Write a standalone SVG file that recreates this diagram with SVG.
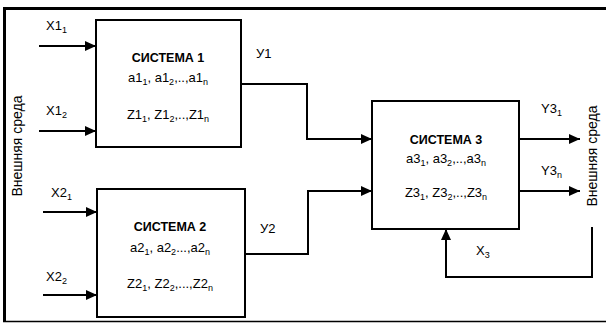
<svg xmlns="http://www.w3.org/2000/svg" width="606" height="325" viewBox="0 0 606 325">
<style>
.t{font-family:"Liberation Sans",Arial,sans-serif;font-size:13px;fill:#000}
.b{font-family:"Liberation Sans",Arial,sans-serif;font-size:12.5px;font-weight:bold;fill:#000}
.s{font-size:9px}
.box{fill:#fff;stroke:#000;stroke-width:2}
.ar{fill:none;stroke:#000;stroke-width:2;marker-end:url(#ah)}
.env{font-family:"Liberation Sans",Arial,sans-serif;font-size:14px;fill:#000}
</style>
<defs>
<marker id="ah" markerUnits="userSpaceOnUse" markerWidth="11" markerHeight="11" refX="11" refY="5" orient="auto">
<path d="M0,0 L11,5 L0,10 z" fill="#000"/>
</marker>
</defs>
<g id="frame">
<line x1="3" y1="8.5" x2="606" y2="8.5" stroke="#000" stroke-width="3"/>
<line x1="4.5" y1="7" x2="4.5" y2="322" stroke="#000" stroke-width="3"/>
<line x1="3" y1="321.5" x2="606" y2="321.5" stroke="#000" stroke-width="1.5"/>
</g>
<g id="env-left">
<text class="env" transform="translate(22,146) rotate(-90)" text-anchor="middle">Внешняя среда</text>
</g>
<g id="env-right">
<text class="env" transform="translate(597,156) rotate(-90)" text-anchor="middle">Внешняя среда</text>
</g>
<g id="connectors">
<line class="ar" x1="39" y1="46" x2="96" y2="46"/>
<line class="ar" x1="39" y1="131" x2="96" y2="131"/>
<line class="ar" x1="43" y1="212" x2="97" y2="212"/>
<line class="ar" x1="43" y1="295" x2="97" y2="295"/>
<polyline class="ar" points="241,84 307,84 307,139 372,139"/>
<polyline class="ar" points="245,254 308,254 308,191 372,191"/>
<line class="ar" x1="519" y1="139" x2="580" y2="139"/>
<line class="ar" x1="519" y1="191" x2="580" y2="191"/>
<polyline class="ar" points="592,227 592,277 446,277 446,229"/>
</g>
<g id="labels">
<text class="t" x="46" y="30">X1<tspan class="s" dy="3">1</tspan></text>
<text class="t" x="46" y="115">X1<tspan class="s" dy="3">2</tspan></text>
<text class="t" x="51" y="197">X2<tspan class="s" dy="3">1</tspan></text>
<text class="t" x="46" y="281">X2<tspan class="s" dy="3">2</tspan></text>
<text class="t" x="256" y="58">У1</text>
<text class="t" x="260" y="233">У2</text>
<text class="t" x="541" y="113">Y3<tspan class="s" dy="3">1</tspan></text>
<text class="t" x="541" y="175">Y3<tspan class="s" dy="3">n</tspan></text>
<text class="t" x="476" y="255">X<tspan class="s" dy="3">3</tspan></text>
</g>
<g id="system1">
<rect class="box" x="96" y="20" width="145" height="127"/>
<text class="b" x="168" y="62" text-anchor="middle">СИСТЕМА 1</text>
<text class="t" x="168" y="82" text-anchor="middle">a1<tspan class="s" dy="3">1</tspan><tspan dy="-3">, a1</tspan><tspan class="s" dy="3">2</tspan><tspan dy="-3">,..,a1</tspan><tspan class="s" dy="3">n</tspan></text>
<text class="t" x="168" y="119" text-anchor="middle">Z1<tspan class="s" dy="3">1</tspan><tspan dy="-3">, Z1</tspan><tspan class="s" dy="3">2</tspan><tspan dy="-3">,..,Z1</tspan><tspan class="s" dy="3">n</tspan></text>
</g>
<g id="system2">
<rect class="box" x="97" y="189" width="148" height="128"/>
<text class="b" x="170" y="231" text-anchor="middle">СИСТЕМА 2</text>
<text class="t" x="170" y="252" text-anchor="middle">a2<tspan class="s" dy="3">1</tspan><tspan dy="-3">, a2</tspan><tspan class="s" dy="3">2</tspan><tspan dy="-3">...,a2</tspan><tspan class="s" dy="3">n</tspan></text>
<text class="t" x="170" y="288" text-anchor="middle">Z2<tspan class="s" dy="3">1</tspan><tspan dy="-3">, Z2</tspan><tspan class="s" dy="3">2</tspan><tspan dy="-3">,...,Z2</tspan><tspan class="s" dy="3">n</tspan></text>
</g>
<g id="system3">
<rect class="box" x="372" y="101" width="147" height="128"/>
<text class="b" x="446" y="144" text-anchor="middle">СИСТЕМА 3</text>
<text class="t" x="446" y="163" text-anchor="middle">a3<tspan class="s" dy="3">1</tspan><tspan dy="-3">, a3</tspan><tspan class="s" dy="3">2</tspan><tspan dy="-3">,..,a3</tspan><tspan class="s" dy="3">n</tspan></text>
<text class="t" x="446" y="197" text-anchor="middle">Z3<tspan class="s" dy="3">1</tspan><tspan dy="-3">, Z3</tspan><tspan class="s" dy="3">2</tspan><tspan dy="-3">,..,Z3</tspan><tspan class="s" dy="3">n</tspan></text>
</g>
</svg>
